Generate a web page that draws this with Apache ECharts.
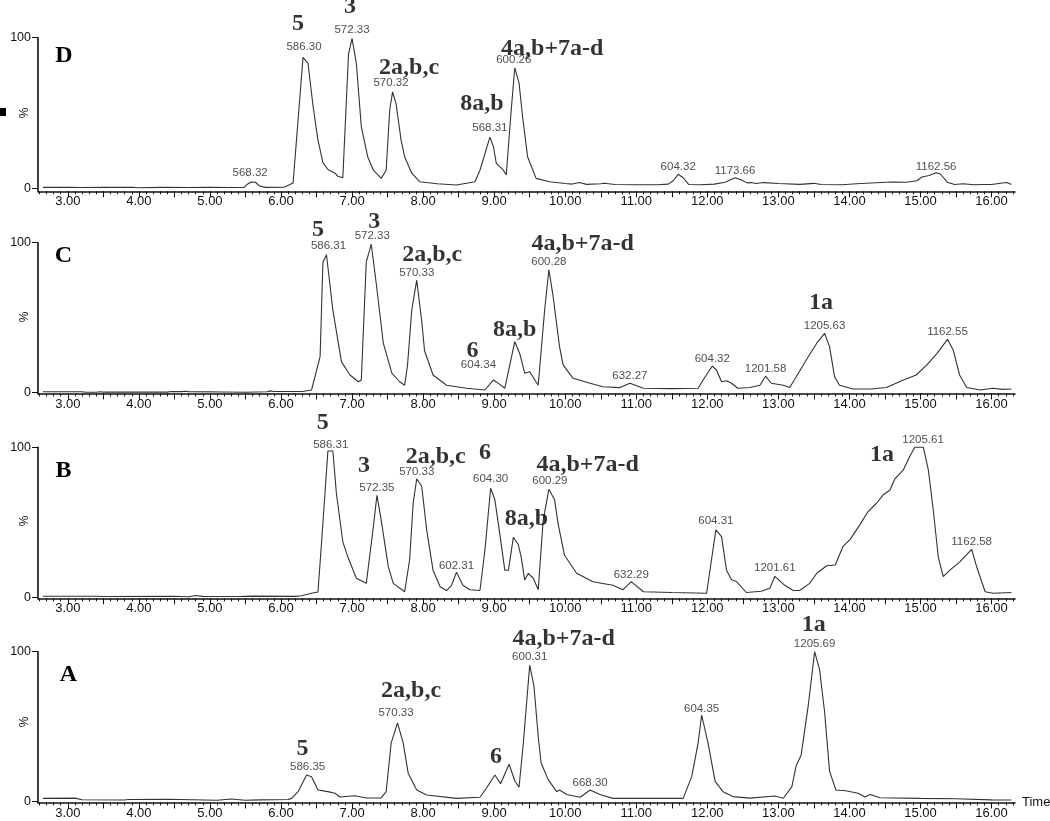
<!DOCTYPE html>
<html><head><meta charset="utf-8">
<script src="https://cdn.jsdelivr.net/npm/echarts@6/dist/echarts.min.js"></script>
<style>html,body{margin:0;padding:0;background:#fff}#c{width:1050px;height:821px}</style>
</head><body><div id="c"></div>
<script>
// ---------- DATA: [retention time (min), relative intensity %] ----------
const traceD = [[2.65,0.6],[3.0,0.6],[3.2,0.5],[3.5,0.6],[3.9,0.7],[4.0,0.4],[4.3,0.6],[4.7,0.5],[5.0,0.6],[5.3,0.5],[5.48,0.6],[5.52,2.5],[5.58,4.2],[5.64,4.0],[5.7,1.5],[5.78,0.6],[6.05,0.8],[6.17,3.5],[6.31,87],[6.38,83],[6.45,55],[6.52,32],[6.59,17],[6.66,12.5],[6.76,10],[6.80,8],[6.87,7],[6.95,89],[7.00,99.5],[7.06,83],[7.13,41],[7.22,21],[7.30,12],[7.41,6.6],[7.48,12],[7.53,52],[7.57,64],[7.62,56],[7.69,32],[7.74,21],[7.84,10],[7.95,4.4],[8.2,3],[8.47,2.2],[8.73,4.4],[8.80,12],[8.94,34],[8.99,27.6],[9.03,16.6],[9.13,12],[9.17,8.8],[9.24,52],[9.29,80],[9.35,70],[9.40,47.5],[9.47,21],[9.59,6.6],[9.78,4.4],[10.0,3.2],[10.1,2.8],[10.2,3.8],[10.3,2.6],[10.5,3.0],[10.55,3.4],[10.7,2.5],[11.0,2.4],[11.3,2.4],[11.45,2.8],[11.52,5],[11.59,9.3],[11.66,7],[11.74,2.5],[11.9,2.4],[12.1,2.8],[12.25,4],[12.39,7],[12.48,5.5],[12.56,3.6],[12.62,3.8],[12.68,3.2],[12.8,3.8],[13.0,3.2],[13.3,2.6],[13.5,3.3],[13.6,2.5],[13.9,2.4],[14.1,3.0],[14.3,3.5],[14.6,4.2],[14.8,4.0],[14.95,5.0],[15.02,7.5],[15.12,8.5],[15.22,10.3],[15.28,9.5],[15.38,4],[15.48,2.5],[15.6,3.0],[15.75,2.4],[15.9,2.5],[16.0,2.5],[16.15,3.5],[16.22,3.8],[16.28,2.5]];
const traceC = [[2.65,0.6],[3.2,0.6],[3.25,0.3],[3.4,0.3],[3.45,0.6],[3.5,0.4],[4.4,0.4],[4.45,0.8],[4.6,0.7],[4.65,1.0],[4.7,0.7],[5.2,0.5],[5.5,0.3],[5.8,0.6],[5.85,1.2],[5.9,0.8],[6.3,0.8],[6.43,1.8],[6.55,24],[6.59,87],[6.64,92],[6.73,55],[6.85,20.7],[6.97,11.8],[7.09,7.3],[7.13,8.5],[7.20,87],[7.27,99],[7.34,73],[7.44,33],[7.56,13],[7.67,7.3],[7.74,5],[7.78,18],[7.84,55],[7.91,75],[7.98,48],[8.02,28],[8.14,11.8],[8.33,5],[8.61,3],[8.87,1.8],[8.99,8.5],[9.06,6.2],[9.15,3],[9.29,34],[9.36,26],[9.43,13],[9.50,14],[9.62,5],[9.71,55],[9.77,82],[9.83,64],[9.92,30.7],[9.97,18.5],[10.11,9.6],[10.35,6.3],[10.53,4],[10.77,3.4],[10.91,6.3],[11.10,3],[11.5,2.7],[11.87,3],[11.94,8.5],[12.07,17.8],[12.13,15],[12.20,7.3],[12.27,8],[12.34,6.3],[12.43,3],[12.6,3.5],[12.74,5],[12.82,11],[12.90,6.3],[13.07,5],[13.16,3.5],[13.42,24],[13.54,33],[13.65,39.6],[13.72,30.7],[13.79,10.7],[13.86,5],[14.05,2.5],[14.3,2.5],[14.52,3.5],[14.76,8.5],[14.94,11.8],[15.09,18.5],[15.23,26],[15.38,35.6],[15.46,28.5],[15.55,11.8],[15.65,3.5],[15.84,1.8],[16.02,3],[16.15,2.2],[16.28,2.5]];
const traceB = [[2.65,0.7],[3.4,0.7],[3.5,0.5],[4.5,0.7],[4.7,0.4],[4.8,1.2],[4.9,0.6],[5.4,0.5],[5.6,0.8],[6.2,0.6],[6.29,1],[6.43,2.7],[6.52,3.5],[6.57,36],[6.66,97.5],[6.73,97.5],[6.78,69],[6.87,37],[6.94,27],[7.06,12.7],[7.20,9.3],[7.30,47],[7.35,68],[7.41,51.5],[7.51,20.4],[7.58,9.3],[7.74,3.7],[7.81,25],[7.86,62.7],[7.91,79],[7.98,74],[8.05,45],[8.14,18],[8.24,7],[8.33,4.5],[8.40,8],[8.47,16.7],[8.56,8],[8.66,5],[8.80,4.5],[8.87,31.5],[8.95,72.7],[9.01,65],[9.08,42],[9.15,18],[9.20,18],[9.27,40],[9.34,35],[9.38,27],[9.43,11.5],[9.48,16],[9.55,12.7],[9.62,5],[9.69,51.5],[9.77,72],[9.85,65],[9.90,49],[9.99,28],[10.16,16],[10.39,10.4],[10.67,8],[10.81,5],[10.93,10.4],[11.10,3.7],[11.5,3.2],[11.99,2.7],[12.12,45],[12.20,40.4],[12.27,18],[12.34,11.7],[12.41,10.5],[12.55,3.2],[12.76,4],[12.88,6],[12.95,14],[13.09,8],[13.21,4.5],[13.30,4.5],[13.44,9.3],[13.54,16],[13.68,21],[13.80,21.5],[13.91,34],[14.01,38.6],[14.15,48.6],[14.26,57],[14.38,62.7],[14.47,68],[14.57,71.5],[14.64,79],[14.76,85],[14.85,94],[14.92,100],[15.04,100],[15.11,85],[15.18,58],[15.25,27],[15.32,13.8],[15.41,18],[15.55,23.5],[15.72,32],[15.79,20.4],[15.91,3.7],[16.02,2.7],[16.28,3.2]];
const traceA = [[2.65,2.2],[3.1,2.4],[3.2,1.3],[3.8,1.1],[3.85,1.5],[4.4,1.6],[5.1,1.0],[5.3,1.8],[5.5,1.0],[5.7,1.2],[6.1,1.5],[6.15,2.2],[6.24,6.7],[6.36,17.8],[6.43,16.7],[6.52,7.8],[6.66,6.7],[6.76,5.6],[6.83,3.1],[7.04,4],[7.20,2.5],[7.41,2.5],[7.48,6.7],[7.55,39],[7.64,52.5],[7.72,39],[7.79,19],[7.91,7.8],[8.05,4.5],[8.47,2.2],[8.80,3],[8.89,9],[9.01,17.8],[9.09,12],[9.21,25],[9.29,14],[9.35,9.6],[9.41,39],[9.50,91],[9.56,77],[9.62,43.5],[9.66,26],[9.76,14.7],[9.88,6.7],[9.92,7.8],[10.02,4.8],[10.21,3],[10.35,7.8],[10.49,4.8],[10.67,2.2],[11.66,2.2],[11.78,16.7],[11.87,39],[11.92,57.8],[12.01,39],[12.11,13.6],[12.22,6.7],[12.36,3.4],[12.6,2.4],[12.95,3.8],[13.07,2.3],[13.19,10],[13.25,24],[13.32,31],[13.42,64],[13.51,100],[13.58,88],[13.65,60],[13.72,20.4],[13.81,7.8],[13.95,7.3],[14.12,5.6],[14.22,3.1],[14.29,4.8],[14.43,2.6],[15.0,2.2],[15.5,2.0],[16.0,1.2],[16.28,1.1]];

// peak m/z annotations: [time, intensity, m/z text]
const mzD = [[5.58,4.2,'568.32'],[6.31,87,'586.30'],[7.00,99.5,'572.33'],[7.57,64,'570.32'],[8.94,34,'568.31'],[9.29,80,'600.26'],[11.59,9.3,'604.32'],[12.39,7,'1173.66'],[15.22,10.3,'1162.56']];
const mzC = [[6.64,92,'586.31'],[7.27,99,'572.33'],[7.91,75,'570.33'],[8.99,8.5,'604.34'],[9.77,82,'600.28'],[10.91,6.3,'632.27'],[12.07,17.8,'604.32'],[12.82,11,'1201.58'],[13.65,39.6,'1205.63'],[15.38,35.6,'1162.55']];
const mzB = [[6.70,97.5,'586.31'],[7.35,68,'572.35'],[7.91,79,'570.33'],[8.47,16.7,'602.31'],[8.95,72.7,'604.30'],[9.77,72,'600.29'],[10.93,10.4,'632.29'],[12.12,45,'604.31'],[12.95,14,'1201.61'],[14.98,100,'1205.61'],[15.72,32,'1162.58']];
const mzA = [[6.36,17.8,'586.35'],[7.64,52.5,'570.33'],[9.50,91,'600.31'],[10.35,7.8,'668.30'],[11.92,57.8,'604.35'],[13.51,100,'1205.69']];

// compound annotations: [label, peak time, peak intensity]
const cmpD = [['5',6.31,87],['3',7.00,99.5],['2a,b,c',7.57,64],['8a,b',8.94,34],['4a,b+7a-d',9.29,80]];
const cmpC = [['5',6.64,92],['3',7.27,99],['2a,b,c',7.91,75],['6',8.99,8.5],['8a,b',9.29,34],['4a,b+7a-d',9.77,82],['1a',13.65,39.6]];
const cmpB = [['5',6.70,97.5],['3',7.35,68],['2a,b,c',7.91,79],['6',8.95,72.7],['8a,b',9.27,40],['4a,b+7a-d',9.77,72],['1a',14.98,100]];
const cmpA = [['5',6.36,17.8],['2a,b,c',7.64,52.5],['6',9.01,17.8],['4a,b+7a-d',9.50,91],['1a',13.51,100]];

const xTickLabels = [3,4,5,6,7,8,9,10,11,12,13,14,15,16];
const yTickLabels = [0,100];

// ---------- LAYOUT (pixel offsets of annotation text) ----------
const mzOffD = [[-1,-9],[1,-10],[0,-8.5],[-1.5,-9],[0,-9],[-1,-8],[0,-7],[0,-7],[0,-6]];
const mzOffC = [[2,-8.7],[1,-8],[0,-7],[-15,-15],[0,-8],[0,-7],[0,-7],[0,-7],[0,-7],[0,-7]];
const mzOffB = [[0,-6],[0,-7],[0,-6.5],[0,-6.5],[0,-9],[1,-8],[0,-6.7],[0,-9],[0,-8],[4,-7],[0,-7]];
const mzOffA = [[1,-8],[-1.5,-10],[0,-8],[0,-7.5],[0,-6],[0,-7.7]];
const cmpOffD = [[-5,-33],[-2,-31.5],[16.5,-24.5],[-8,-33],[37.5,-19]];
const cmpOffC = [[-8.5,-24.7],[3,-22.7],[15.5,-25.7],[-21,-29],[0,-12],[33.7,-26],[-3.5,-31]];
const cmpOffB = [[-8,-28.5],[-13,-30],[19,-22],[-5.6,-35],[13,-19],[38.7,-25],[-37,7]];
const cmpOffA = [[-4,-26.5],[13.5,-32],[1,-18.5],[34,-26.7],[-1,-26.7]];

const xMin = 2.58, xMax = 16.33;
const majorTicks = [], minorTicks = [];
for (let i = 5; i <= 33; i++) majorTicks.push(i / 2);
for (let i = 26; i <= 163; i++) minorTicks.push(i / 10);

const panels = [
  {name:'D', trace:traceD, mz:mzD, mzOff:mzOffD, cmp:cmpD, cmpOff:cmpOffD, top:37.7, zeroPx:188.3, yMin:-2, lx:64, ly:55.5, py:113},
  {name:'C', trace:traceC, mz:mzC, mzOff:mzOffC, cmp:cmpC, cmpOff:cmpOffC, top:242.7, zeroPx:392.7, yMin:-0.5, lx:63.5, ly:255.5, py:317},
  {name:'B', trace:traceB, mz:mzB, mzOff:mzOffB, cmp:cmpB, cmpOff:cmpOffB, top:447.3, zeroPx:597.3, yMin:-0.7, lx:63.5, ly:470.5, py:521},
  {name:'A', trace:traceA, mz:mzA, mzOff:mzOffA, cmp:cmpA, cmpOff:cmpOffA, top:651.7, zeroPx:801.7, yMin:-0.5, lx:68.5, ly:674.5, py:722}
];

const SANS = '"Liberation Sans", Arial, sans-serif';
const SERIF = '"Liberation Serif", "Times New Roman", serif';
const axisColor = '#111';

const grid = [], xAxis = [], yAxis = [], series = [], graphic = [];
panels.forEach((p, i) => {
  const h = (p.zeroPx - p.top) * (100 - p.yMin) / 100;
  grid.push({left: 38, width: 977, top: p.top, height: h, containLabel: false, outerBoundsMode: 'none'});
  xAxis.push({
    type: 'value', gridIndex: i, min: xMin, max: xMax, position: 'bottom',
    axisLine: {show: true, onZero: false, lineStyle: {color: axisColor, width: 1.6}},
    axisTick: {show: true, customValues: majorTicks, length: 6, lineStyle: {color: axisColor, width: 1}},
    axisLabel: {show: true, customValues: xTickLabels, formatter: v => v.toFixed(2), margin: 4,
                fontSize: 13, fontFamily: SANS, color: '#111'},
    splitLine: {show: false},
    name: i === 3 ? 'Time' : '', nameLocation: 'end', nameGap: 7,
    nameTextStyle: {fontSize: 13, fontFamily: SANS, color: '#111', verticalAlign: 'middle'}
  });
  xAxis.push({
    type: 'value', gridIndex: i, min: xMin, max: xMax, position: 'bottom',
    axisLine: {show: false, onZero: false},
    axisTick: {show: true, customValues: minorTicks, length: 3, lineStyle: {color: axisColor, width: 1}},
    axisLabel: {show: false}, splitLine: {show: false}
  });
  yAxis.push({
    type: 'value', gridIndex: i, min: p.yMin, max: 100,
    axisLine: {show: true, onZero: false, lineStyle: {color: axisColor, width: 1.6}},
    axisTick: {show: true, customValues: yTickLabels, length: 6, lineStyle: {color: axisColor, width: 1}},
    axisLabel: {show: true, customValues: yTickLabels, margin: 7, fontSize: 12.5, fontFamily: SANS, color: '#111'},
    splitLine: {show: false}
  });
  series.push({
    type: 'line', xAxisIndex: 2 * i, yAxisIndex: i, data: p.trace, symbol: 'none',
    lineStyle: {color: '#333', width: 1.1}, clip: false, silent: true, z: 3
  });
  series.push({
    type: 'scatter', xAxisIndex: 2 * i, yAxisIndex: i, clip: false, silent: true,
    symbolSize: 1, itemStyle: {color: 'rgba(0,0,0,0)'},
    data: p.mz.map((m, j) => ({name: m[2], value: [m[0], m[1]], label: {offset: p.mzOff[j]}})),
    label: {show: true, position: 'inside', formatter: '{b}', fontSize: 11.5, fontFamily: SANS, color: '#222'},
    z: 4
  });
  series.push({
    type: 'scatter', xAxisIndex: 2 * i, yAxisIndex: i, clip: false, silent: true,
    symbolSize: 1, itemStyle: {color: 'rgba(0,0,0,0)'},
    data: p.cmp.map((c, j) => ({name: c[0], value: [c[1], c[2]], label: {offset: p.cmpOff[j]}})),
    label: {show: true, position: 'inside', formatter: '{b}', fontSize: 24, fontWeight: 'bold',
            fontFamily: SERIF, color: '#000'},
    z: 5
  });
  graphic.push({
    type: 'text', x: p.lx, y: p.ly,
    style: {text: p.name, fontSize: 24, fontWeight: 'bold', fontFamily: SERIF, fill: '#000',
            align: 'center', verticalAlign: 'middle'}
  });
  graphic.push({
    type: 'text', x: 25, y: p.py, rotation: Math.PI / 2,
    style: {text: '%', fontSize: 12, fontFamily: SANS, fill: '#111',
            align: 'center', verticalAlign: 'middle'}
  });
});
graphic.push({type: 'rect', shape: {x: 0, y: 108, width: 6, height: 8}, style: {fill: '#000'}});

const chart = echarts.init(document.getElementById('c'), null, {renderer: 'canvas'});
chart.setOption({
  animation: false,
  backgroundColor: '#fff',
  grid, xAxis, yAxis, series, graphic
});
</script></body></html>
